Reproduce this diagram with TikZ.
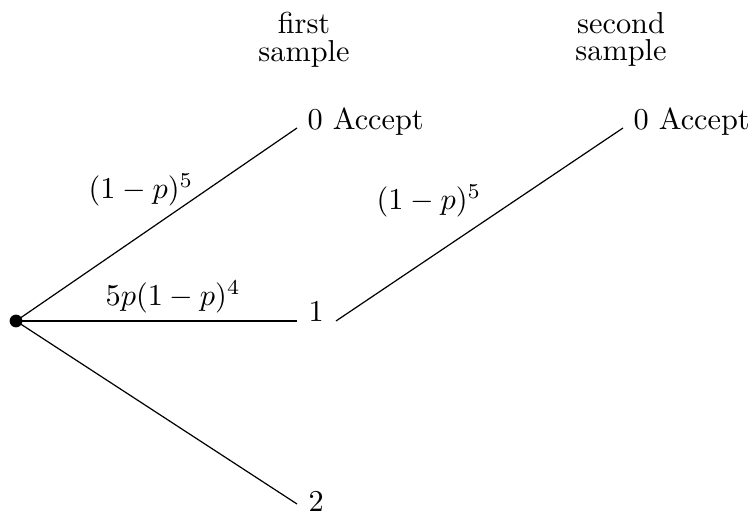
\documentclass[tikz,border=0pt]{standalone}
\begin{document}
\begin{tikzpicture}[x=0.33pt,y=-0.33pt,
  thinline/.style={line width=0.4pt},
  thickline/.style={line width=0.8pt},
  rootdot/.style={circle,fill=black,inner sep=0pt,minimum size=4.2pt},
  txt/.style={inner sep=0pt,anchor=base west},
  header/.style={inner sep=0pt,anchor=north,align=center}]
\useasboundingbox (0,0) rectangle (756,517);
% headers
\node[header] (h1) at (304,12) {first\\[-3pt]sample};
\node[header] (h2) at (621,12) {second\\[-3pt]sample};
% root
\node[rootdot] (r) at (16,321) {};
% branch end points
\coordinate (e1) at (297,128);
\coordinate (e2) at (297,321);
\coordinate (e3) at (297,504);
\coordinate (s1) at (336,321);
\coordinate (e4) at (623,128);
% end labels
\node[txt] (a0) at (307,130) {0 Accept};
\node[txt] (n1) at (308,322) {1};
\node[txt] (n2) at (308,512) {2};
\node[txt] (b0) at (633,130) {0 Accept};
% branches
\draw[thinline] (r.center) -- (e1);
\draw[thickline] (r.center) -- (e2);
\draw[thinline] (r.center) -- (e3);
\draw[thinline] (s1) -- (e4);
% probabilities
\node[txt] (p1) at (88,199) {$(1-p)^5$};
\node[txt] (p2) at (105,306) {$5p(1-p)^4$};
\node[txt] (p3) at (376,210) {$(1-p)^5$};
\end{tikzpicture}
\end{document}
